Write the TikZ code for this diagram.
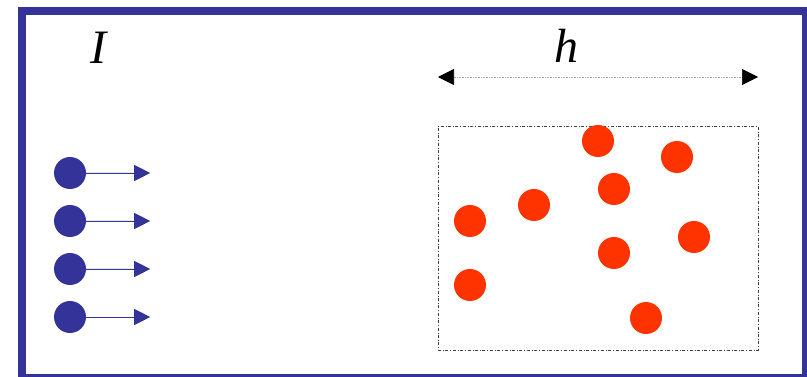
\documentclass[tikz,border=0pt]{standalone}
\usepackage{fontspec}
\setmainfont{Liberation Serif}
\usetikzlibrary{arrows.meta,positioning}
\definecolor{frameblue}{RGB}{51,51,153}
\definecolor{ballred}{RGB}{255,51,0}
\tikzset{
  incoming/.style={circle,fill=frameblue,minimum size=32pt,inner sep=0pt},
  particle/.style={circle,fill=ballred,minimum size=32pt,inner sep=0pt},
  beam/.style={-{Triangle[length=16pt,width=16pt]},draw=frameblue,fill=frameblue,line width=0.7pt},
  span/.style={{Triangle[length=16pt,width=16pt,black]}-{Triangle[length=16pt,width=16pt,black]},
    draw=black!35,densely dotted,line width=0.6pt},
  region/.style={draw=black!75,dash dot,line width=0.6pt,minimum width=320pt,minimum height=224pt,inner sep=0pt},
  symbol/.style={font=\fontsize{48}{50}\selectfont\itshape,inner sep=0pt}
}
\begin{document}
\begin{tikzpicture}[x=1pt,y=-1pt]
  \useasboundingbox (0,0) rectangle (807,377);
  \draw[frameblue,line width=8pt] (22,11) rectangle (806,378);
  % beam
  \node[symbol] (intensity) at (98,48) {I};
  \node[incoming] (b1) at (70,173) {};
  \node[incoming] (b2) at (70,221) {};
  \node[incoming] (b3) at (70,269) {};
  \node[incoming] (b4) at (70,317) {};
  \coordinate[right=64pt of b1] (t1);
  \coordinate[right=64pt of b2] (t2);
  \coordinate[right=64pt of b3] (t3);
  \coordinate[right=64pt of b4] (t4);
  \draw[beam] (b1) -- (t1);
  \draw[beam] (b2) -- (t2);
  \draw[beam] (b3) -- (t3);
  \draw[beam] (b4) -- (t4);
  % target
  \node[region] (box) at (598,238) {};
  \coordinate (hleft) at (438,77);
  \coordinate (hright) at (758,77);
  \draw[span] (hleft) -- (hright);
  \node[symbol] (thick) at (566,46) {h};
  \node[particle] (p1) at (598,141) {};
  \node[particle] (p2) at (677,157) {};
  \node[particle] (p3) at (614,189) {};
  \node[particle] (p4) at (534,205) {};
  \node[particle] (p5) at (470,221) {};
  \node[particle] (p6) at (694,237) {};
  \node[particle] (p7) at (614,253) {};
  \node[particle] (p8) at (470,285) {};
  \node[particle] (p9) at (646,318) {};
\end{tikzpicture}
\end{document}
